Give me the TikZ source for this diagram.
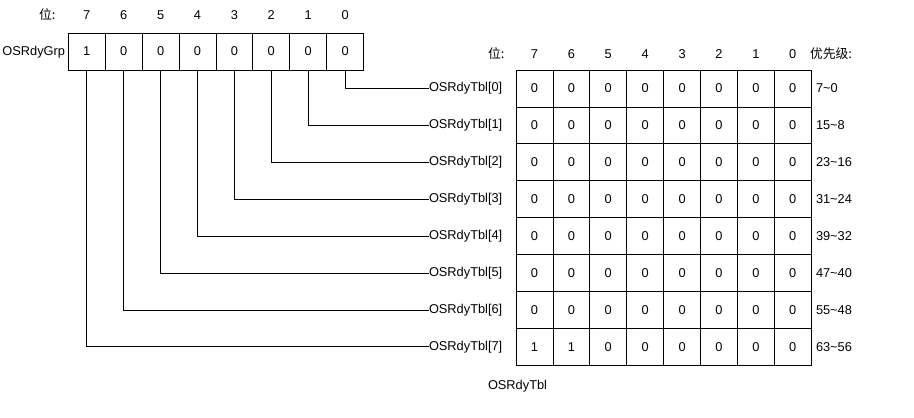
\documentclass[tikz,border=0pt]{standalone}
\usepackage{fontspec}
\setmainfont{Liberation Sans}
\newfontfamily\cjk{Noto Sans CJK SC}
\usetikzlibrary{positioning}
\newcommand{\cellsize}{36.9pt}
\tikzstyle{bitcell}=[draw, inner sep=0, outer sep=0, minimum size=\cellsize, line width=0.8pt]
\tikzstyle{lbl}=[inner sep=0, outer sep=0, font=\fontsize{12.8}{15}\selectfont]
\tikzstyle{wire}=[line width=0.8pt]

\begin{document}
\begin{tikzpicture}[x=1pt, y=-1pt, every node/.style={lbl}]
    \useasboundingbox (0,0) rectangle (914,418);
    % OSRdyGrp register
    \node[anchor=west] (grpbits) at (39,15) {\cjk 位:};
    \node[anchor=east] (grp) at (65,52) {OSRdyGrp};
    \foreach \b [count=\i from 0] in {1,0,0,0,0,0,0,0} {
        \pgfmathtruncatemacro\k{7-\i}
        \node[bitcell] (g\k) at (86.8+36.9*\i, 51.5) {\b};
        \node (gh\k) at (86.8+36.9*\i, 15) {\k};
    }
    % OSRdyTbl table
    \node[anchor=west] (tblbits) at (488,54) {\cjk 位:};
    \node[anchor=west] (prio) at (810,54) {\cjk 优先级:};
    \foreach \i in {0,...,7} {
        \pgfmathtruncatemacro\k{7-\i}
        \node (th\k) at (534.5+36.9*\i, 54) {\k};
    }
    \foreach \r/\lo/\hi in {0/0/7, 1/8/15, 2/16/23, 3/24/31, 4/32/39, 5/40/47, 6/48/55, 7/56/63} {
        \foreach \i in {0,...,7} {
            \pgfmathtruncatemacro\k{7-\i}
            \pgfmathtruncatemacro\v{(\r==7)*(\i<2)}
            \node[bitcell] (t\r-\k) at (534.5+36.9*\i, 88.5+36.9*\r) {\v};
        }
        \node[anchor=west] (tbl\r) at (429, 88.5+36.9*\r) {OSRdyTbl[\r]};
        \node[anchor=west] (p\r) at (816, 88.5+36.9*\r) {\hi\textasciitilde\lo};
        \draw[wire] (g\r.south) |- (tbl\r.west);
    }
    \node[anchor=west] (tbl) at (488,386) {OSRdyTbl};
\end{tikzpicture}
\end{document}
